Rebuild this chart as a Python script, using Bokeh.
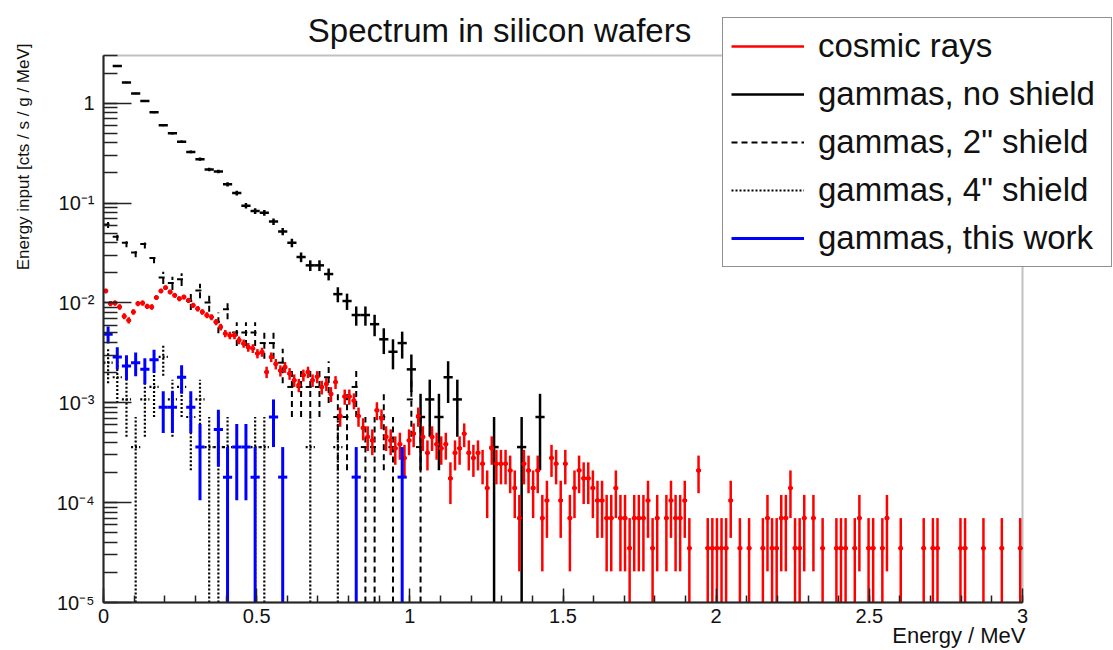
import numpy as np
from bokeh.plotting import figure
from bokeh.models import (ColumnDataSource, Legend, LegendItem, Label, FixedTicker,
                          CustomJSTickFormatter, Range1d, BoxAnnotation)
from bokeh.embed import file_html
from bokeh.resources import INLINE

# ---------------- data (histogram counts) ----------------
E_MIN, E_MAX = 0.0, 3.0
Y_MIN, Y_MAX = 1e-5, 3.0
GAMMA_BIN = 0.03      # MeV
COSMIC_BIN = 0.015    # MeV

cosmic_weight = 3.5e-5      # cts/s/g/MeV per entry
gamma_weight = 3.6e-4
this_work_weight = 1.8e-4

cosmic_counts = [
    376, 281, 285, 260, 210, 191, 232, 281, 285, 264,
    260, 323, 376, 406, 367, 340, 315, 327, 303, 270,
    250, 232, 215, 206, 184, 164, 141, 135, 135, 121,
    112, 103, 100, 89, 92, 58, 82, 70, 60, 65,
    56, 48, 43, 54, 58, 48, 52, 41, 44, 35,
    46, 21, 33, 33, 30, 21, 16, 13, 12, 24,
    20, 13, 12, 10, 11, 8, 12, 14, 21, 13,
    9, 13, 11, 10, 11, 5, 9, 10, 14, 9,
    8, 9, 7, 4, 10, 7, 7, 7, 6, 4,
    2, 7, 6, 4, 6, 2, 3, 8, 7, 3,
    7, 2, 4, 6, 5, 5, 4, 3, 3, 2,
    2, 4, 2, 2, 1, 2, 2, 2, 3, 1,
    2, 0, 2, 3, 2, 2, 3, 1, 0, 6,
    0, 1, 1, 1, 1, 1, 3, 0, 1, 0,
    1, 0, 0, 1, 2, 1, 1, 2, 2, 4,
    1, 1, 2, 0, 2, 0, 1, 0, 0, 1,
    1, 1, 0, 1, 2, 0, 1, 1, 0, 1,
    2, 0, 0, 1, 0, 0, 0, 0, 1, 0,
    1, 1, 0, 0, 0, 0, 1, 1, 0, 0,
    0, 1, 0, 0, 0, 1, 0, 0, 0, 1,
]

no_shield_counts = [
    0, 6528, 4472, 3472, 2917, 2250, 1667, 1389, 1139, 903,
    764, 603, 575, 428, 350, 261, 231, 222, 181, 144,
    111, 80, 66, 66, 54, 34, 29, 21, 21, 17,
    12, 9, 11, 6, 2, 3, 2, 5, 3, 0,
    0, 0, 1, 0, 0, 1, 0, 2,
]

shield2_counts = [
    169, 128, 111, 89, 108, 78, 50, 44, 48, 29,
    37, 28, 18, 24, 14, 14, 14, 11, 11, 7,
    4, 4, 4, 4, 5, 2, 2, 4, 1, 1,
    2, 1, 0, 3, 1,
]

shield4_counts = [
    7, 5, 3, 1, 3, 4, 8, 3, 4, 2,
    3, 1, 1, 1, 0, 0, 1, 1, 0, 0,
    0, 0, 1, 0, 0, 1,
]

this_work_counts = [
    27, 16, 13, 14, 12, 15, 5, 5, 10, 5,
    2, 0, 3, 1, 2, 2, 1, 0, 4, 1,
    0, 0, 0, 0, 0, 0, 0, 1, 0, 0,
    0, 0, 1,
]

labels = ["cosmic rays", "gammas, no shield", 'gammas, 2" shield',
          'gammas, 4" shield', "gammas, this work"]
title_text = "Spectrum in silicon wafers"
x_title = "Energy / MeV"
y_title = "Energy input [cts / s / g / MeV]"

FONT = "Liberation Sans"

# ---------------- layout (pixels) ----------------
W, H = 1113, 650
FRAME_L, FRAME_R = 103, 1022     # pixel of E_MIN / E_MAX inside the canvas
FRAME_T, FRAME_B = 55, 602       # pixel of Y_MAX / Y_MIN inside the canvas

px_per_mev = (FRAME_R - FRAME_L) / (E_MAX - E_MIN)
x_lo = E_MIN - FRAME_L / px_per_mev
x_hi = E_MAX + (W - FRAME_R) / px_per_mev
px_per_dec = (FRAME_B - FRAME_T) / (np.log10(Y_MAX) - np.log10(Y_MIN))
y_lo = 10 ** (np.log10(Y_MIN) - (H - FRAME_B) / px_per_dec)
y_hi = 10 ** (np.log10(Y_MAX) + FRAME_T / px_per_dec)


def hist_source(counts, weight, bin_width):
    n = np.asarray(counts, dtype=float)
    centers = E_MIN + bin_width * (np.arange(len(n)) + 0.5)
    m = n > 0
    v = n[m] * weight
    e = np.sqrt(n[m]) * weight
    c = centers[m]
    return ColumnDataSource(dict(
        x=c, x0=c - bin_width / 2, x1=c + bin_width / 2,
        y=v, lo=np.maximum(v - e, Y_MIN), hi=np.minimum(v + e, Y_MAX)))


p = figure(width=W, height=H,
           x_range=Range1d(x_lo, x_hi), y_range=Range1d(y_lo, y_hi),
           y_axis_type="log", output_backend="svg", toolbar_location=None,
           min_border=0, min_border_left=0, min_border_right=0,
           min_border_top=0, min_border_bottom=0)
p.grid.visible = False
p.outline_line_color = None
p.background_fill_color = "white"
p.border_fill_color = "white"

# axes placed at the data origin, inside the canvas
p.xaxis.fixed_location = Y_MIN
p.yaxis.fixed_location = E_MIN
p.xaxis.bounds = (E_MIN, E_MAX)
p.yaxis.bounds = (Y_MIN, Y_MAX)
p.xaxis.ticker = FixedTicker(ticks=[0, 0.5, 1, 1.5, 2, 2.5, 3],
                             minor_ticks=[i / 10 for i in range(31)])
p.xaxis.formatter = CustomJSTickFormatter(code="return String(Math.round(tick*10)/10);")
y_major = [10.0 ** d for d in range(-5, 1)]
y_minor = [t for t in (k * 10.0 ** d for d in range(-5, 1) for k in range(1, 10))
           if t <= Y_MAX]
p.yaxis.ticker = FixedTicker(ticks=y_major, minor_ticks=y_minor)
p.yaxis.formatter = CustomJSTickFormatter(code="""
const e = Math.round(Math.log10(tick));
if (e == 0) return "1";
const sup = {"-": "\u207b", "0": "\u2070", "1": "\u00b9", "2": "\u00b2", "3": "\u00b3",
             "4": "\u2074", "5": "\u2075", "6": "\u2076"};
return "10" + String(e).split("").map(c => sup[c]).join("");
""")
for ax in (p.xaxis, p.yaxis):
    ax.axis_line_color = "#222222"
    ax.axis_line_width = 2
    ax.major_tick_line_color = "#222222"
    ax.minor_tick_line_color = "#222222"
    ax.major_tick_line_width = 1.5
    ax.minor_tick_line_width = 1.5
    ax.major_tick_out = 0
    ax.minor_tick_out = 0
    ax.major_label_text_font = FONT
    ax.major_label_text_color = "#111111"
p.xaxis.major_tick_in = 14
p.xaxis.minor_tick_in = 7
p.yaxis.major_tick_in = 28
p.yaxis.minor_tick_in = 14
p.xaxis.major_label_text_font_size = "20px"
p.yaxis.major_label_text_font_size = "20px"
p.xaxis.major_label_standoff = 6
p.yaxis.major_label_standoff = 9

# ROOT-style frame box
p.add_layout(BoxAnnotation(left=E_MIN, right=E_MAX, bottom=Y_MIN, top=Y_MAX,
                           fill_alpha=0, line_color="#333333", line_width=2))


def draw(src, color, width, dash="solid"):
    r = p.segment(x0="x", y0="lo", x1="x", y1="hi", source=src,
                  line_color=color, line_width=width, line_dash=dash)
    p.segment(x0="x0", y0="y", x1="x1", y1="y", source=src,
              line_color=color, line_width=width, line_dash=dash)
    return r


r_none = draw(hist_source(no_shield_counts, gamma_weight, GAMMA_BIN), "black", 2.5)
r_2 = draw(hist_source(shield2_counts, gamma_weight, GAMMA_BIN), "black", 2, "6 4")
r_4 = draw(hist_source(shield4_counts, gamma_weight, GAMMA_BIN), "black", 2.2, "2 2")
src_c = hist_source(cosmic_counts, cosmic_weight, COSMIC_BIN)
r_cos = draw(src_c, "#ff0000", 2.5)
p.scatter(x="x", y="y", source=src_c, size=4, color="#ff0000")
r_tw = draw(hist_source(this_work_counts, this_work_weight, GAMMA_BIN), "#0000ff", 3)

legend = Legend(items=[
    LegendItem(label=labels[0], renderers=[r_cos]),
    LegendItem(label=labels[1], renderers=[r_none]),
    LegendItem(label=labels[2], renderers=[r_2]),
    LegendItem(label=labels[3], renderers=[r_4]),
    LegendItem(label=labels[4], renderers=[r_tw]),
], location=(722, 383))
legend.label_text_font = FONT
legend.label_text_font_size = "33px"
legend.label_text_color = "#111111"
legend.glyph_width = 73
legend.glyph_height = 40
legend.label_height = 40
legend.label_width = 285
legend.spacing = 8
legend.padding = 8
legend.margin = 0
legend.label_standoff = 14
legend.border_line_color = "#222222"
legend.border_line_width = 1.5
legend.background_fill_color = "white"
legend.background_fill_alpha = 1.0
p.add_layout(legend)

# titles
p.add_layout(Label(x=E_MIN, y=Y_MAX, x_offset=396, y_offset=25, text=title_text,
                   text_font=FONT, text_font_size="33px", text_color="#111111",
                   text_align="center", text_baseline="middle"))
p.add_layout(Label(x=E_MAX, y=Y_MIN, x_offset=3, y_offset=-33, text=x_title,
                   text_font=FONT, text_font_size="22px", text_color="#111111",
                   text_align="right", text_baseline="middle"))
p.add_layout(Label(x=E_MIN, y=Y_MAX, x_offset=-80, y_offset=12, text=y_title,
                   text_font=FONT, text_font_size="17px", text_color="#111111",
                   text_align="right", text_baseline="middle", angle=np.pi / 2))

open("out.html", "w").write(file_html(p, INLINE))
